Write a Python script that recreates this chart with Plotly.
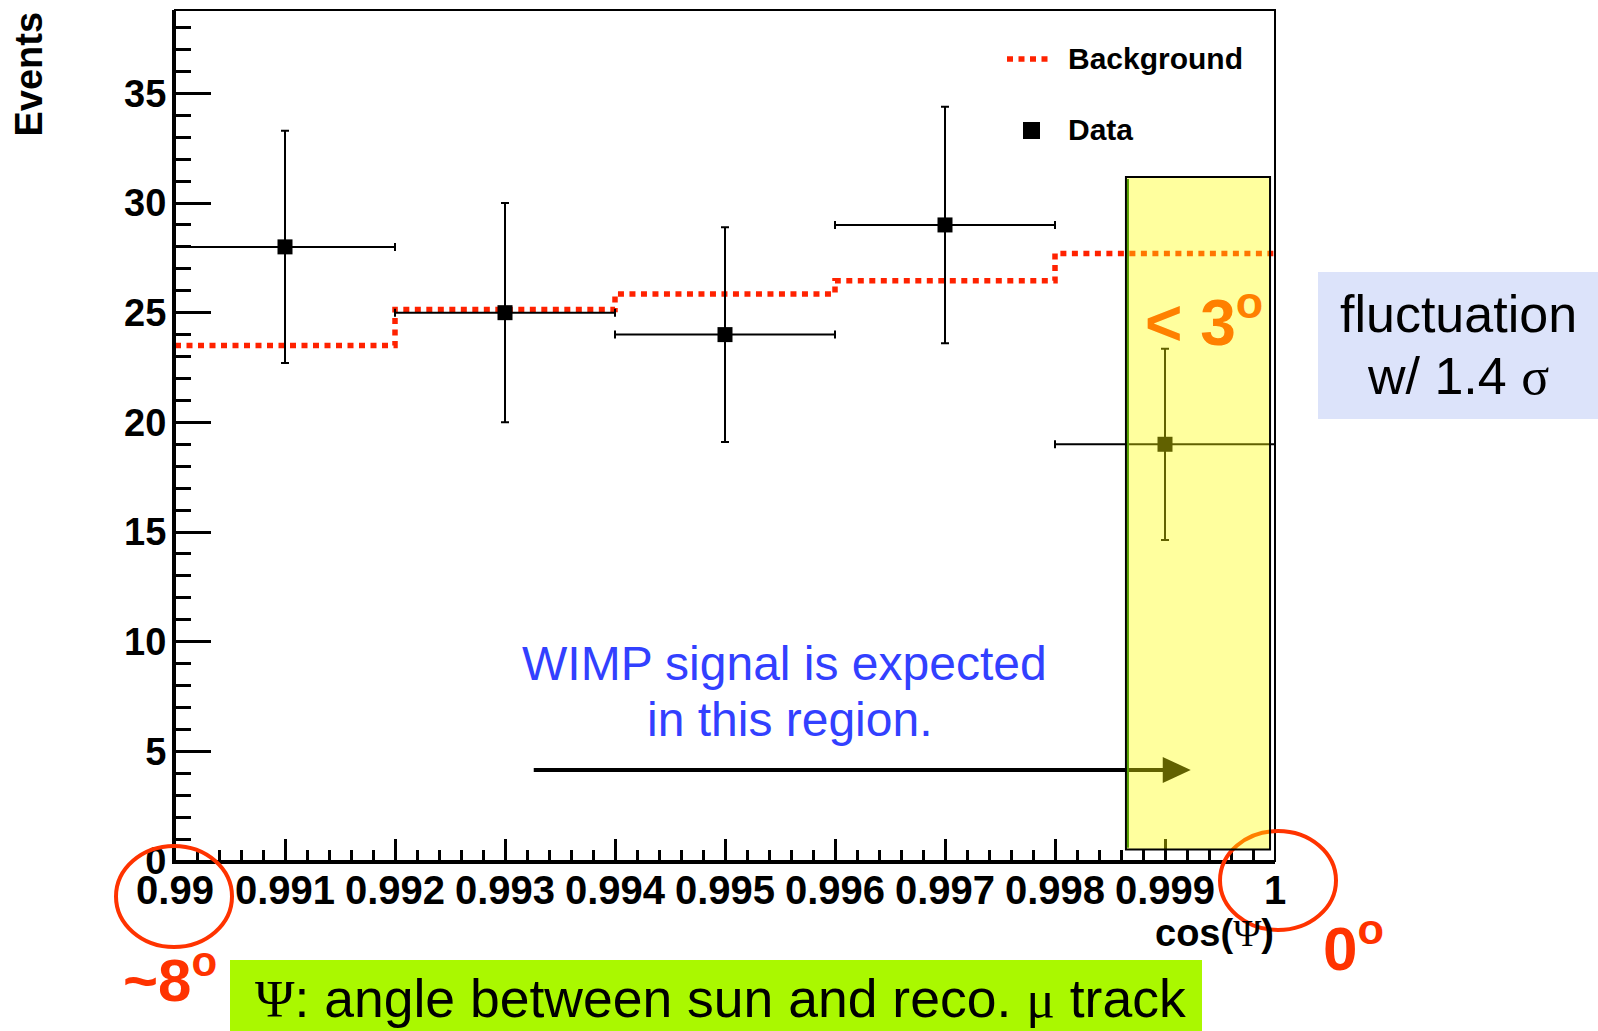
import plotly.graph_objects as go

# ---------------- data ----------------
bin_centers = [0.991, 0.993, 0.995, 0.997, 0.999]
bin_half_width = [0.001, 0.001, 0.001, 0.001, 0.001]
data_counts = [28, 25, 24, 29, 19]
data_errors = [5.29, 5.0, 4.9, 5.39, 4.36]

bg_edges = [0.990, 0.992, 0.994, 0.996, 0.998, 1.000]
bg_values = [23.5, 25.15, 25.85, 26.45, 27.7]

x_tickvals = [0.990, 0.991, 0.992, 0.993, 0.994, 0.995, 0.996, 0.997, 0.998, 0.999, 1.000]
x_ticktext = ["0.99", "0.991", "0.992", "0.993", "0.994", "0.995", "0.996", "0.997", "0.998", "0.999", "1"]
y_tickvals = [0, 5, 10, 15, 20, 25, 30, 35]

# ---------------- layout geometry (pixels) ----------------
W, H = 1598, 1031
PL, PR, PT, PB = 175, 1275, 10, 861
SANS = "Liberation Sans, Arial, sans-serif"
SERIF = "Liberation Serif, Times New Roman, serif"
BG_DASH = "6px,5.5px"


def px(x):
    return (x - PL) / (PR - PL)


def py(y):
    return (PB - y) / (PB - PT)


fig = go.Figure()

# background (step histogram)
fig.add_trace(go.Scatter(
    x=bg_edges, y=bg_values + [bg_values[-1]],
    mode="lines", line=dict(shape="hv", color="#FF2200", width=5.5, dash=BG_DASH),
    name="Background", showlegend=False, hoverinfo="skip",
))

# data points
fig.add_trace(go.Scatter(
    x=bin_centers, y=data_counts, mode="markers",
    marker=dict(symbol="square", size=15, color="black"),
    error_y=dict(type="data", array=data_errors, color="black", thickness=2, width=4),
    error_x=dict(type="data", array=bin_half_width, color="black", thickness=2, width=4),
    name="Data", showlegend=False,
))

shapes = []
# plot frame (top/right)
shapes.append(dict(type="rect", xref="paper", yref="paper", x0=0, x1=1, y0=0, y1=1,
                   line=dict(color="black", width=2), layer="above"))

# legend samples
shapes.append(dict(type="line", xref="paper", yref="paper", x0=px(1007), x1=px(1050), y0=py(59), y1=py(59),
                   line=dict(color="#FF2200", width=5.5, dash=BG_DASH)))
shapes.append(dict(type="rect", xref="paper", yref="paper", x0=px(1023), x1=px(1040), y0=py(122), y1=py(139),
                   fillcolor="black", line=dict(width=0)))

# arrow (drawn under the yellow region)
tip_x, arrow_y = 0.999234, 4.15
shapes.append(dict(type="line", xref="x", yref="y", xsizemode="pixel", xanchor=tip_x,
                   x0=-657, x1=-26, y0=arrow_y, y1=arrow_y,
                   line=dict(color="black", width=4)))
shapes.append(dict(type="path", xref="x", yref="y", xsizemode="pixel", ysizemode="pixel",
                   xanchor=tip_x, yanchor=arrow_y, path="M-28,-13 L0,0 L-28,13 Z",
                   fillcolor="black", line=dict(width=0)))

# red circles
shapes.append(dict(type="circle", xref="paper", yref="paper", x0=px(116), x1=px(232), y0=py(947), y1=py(846),
                   line=dict(color="#FF3300", width=4)))
shapes.append(dict(type="circle", xref="paper", yref="paper", x0=px(1220), x1=px(1336), y0=py(930), y1=py(831),
                   line=dict(color="#FF3300", width=4)))

# yellow signal region (semi-transparent, on top)
shapes.append(dict(type="rect", xref="x", yref="y", x0=0.998645, x1=0.999955, y0=0.52, y1=31.19,
                   fillcolor="rgba(255,255,0,0.38)", line=dict(color="black", width=2), layer="above"))
shapes.append(dict(type="line", xref="x", yref="y", xsizemode="pixel", xanchor=0.998645, x0=2, x1=2,
                   y0=0.6, y1=31.1, line=dict(color="#55A000", width=2)))

# lavender box and green box
shapes.append(dict(type="rect", xref="paper", yref="paper", x0=px(1318), x1=px(1600), y0=py(419), y1=py(272),
                   fillcolor="#DCE3FA", line=dict(width=0)))
shapes.append(dict(type="rect", xref="paper", yref="paper", x0=px(230), x1=px(1202), y0=py(1035), y1=py(960),
                   fillcolor="#AAF800", line=dict(width=0)))

annotations = []


def text(t, x, y, size, color="black", bold=False, xanchor="center", family=SANS, angle=0, yanchor="middle"):
    annotations.append(dict(
        text=t, x=px(x), y=py(y), xref="paper", yref="paper", showarrow=False,
        xanchor=xanchor, yanchor=yanchor, textangle=angle,
        font=dict(family=family, size=size, color=color, weight="bold" if bold else "normal"),
    ))


# legend text
text("Background", 1066, 59, 30, bold=True, xanchor="left")
text("Data", 1066, 130, 30, bold=True, xanchor="left")

# axis titles
text("Events", 28, 10, 38, bold=True, angle=-90, yanchor="top")
text("cos(<span style='font-family:Liberation Serif;font-weight:normal'>Ψ</span>)", 1276, 933, 38,
     bold=True, xanchor="right")

# blue annotation
text("WIMP signal is expected", 784, 663, 48, color="#3240FF")
text("in this region.", 790, 719, 48, color="#3240FF")

# angles
text("< 3<sup>o</sup>", 1204, 318, 64, color="#FF8000", bold=True)
text("~8<sup>o</sup>", 170, 976, 60, color="#FF3300", bold=True)
text("0<sup>o</sup>", 1353, 944, 62, color="#FF3300", bold=True)

# boxes text
text("fluctuation", 1458, 314, 52)
text("w/ 1.4 <span style='font-family:Liberation Serif'>σ</span>", 1458, 376, 52)
text("<span style='font-family:Liberation Serif'>Ψ</span>: angle between sun and reco. "
     "<span style='font-family:Liberation Serif'>μ</span> track", 720, 999, 53.5)

x_minor = [0.990 + 0.0002 * i for i in range(51)]
y_minor = list(range(0, 39))

fig.update_layout(
    width=W, height=H, autosize=False,
    margin=dict(l=PL, r=W - PR, t=PT, b=H - PB, pad=0),
    paper_bgcolor="white", plot_bgcolor="white",
    showlegend=False,
    shapes=shapes, annotations=annotations,
    xaxis=dict(
        range=[0.990, 1.000], showgrid=False, zeroline=False,
        showline=True, linecolor="black", linewidth=3,
        ticks="inside", ticklen=22, tickwidth=2.5, tickcolor="black",
        tickvals=x_tickvals, ticktext=x_ticktext, ticklabelstandoff=-8,
        tickfont=dict(family=SANS, size=40, color="black", weight="bold"),
        minor=dict(tickvals=x_minor, ticks="inside", ticklen=11, tickwidth=2.5, tickcolor="black"),
    ),
    yaxis=dict(
        range=[0, 38.8], showgrid=False, zeroline=False,
        showline=True, linecolor="black", linewidth=3,
        ticks="inside", ticklen=36, tickwidth=2.5, tickcolor="black",
        tickvals=y_tickvals, ticklabelstandoff=-2,
        tickfont=dict(family=SANS, size=38, color="black", weight="bold"),
        minor=dict(tickvals=y_minor, ticks="inside", ticklen=16, tickwidth=2.5, tickcolor="black"),
    ),
)

fig.write_html("out.html")
